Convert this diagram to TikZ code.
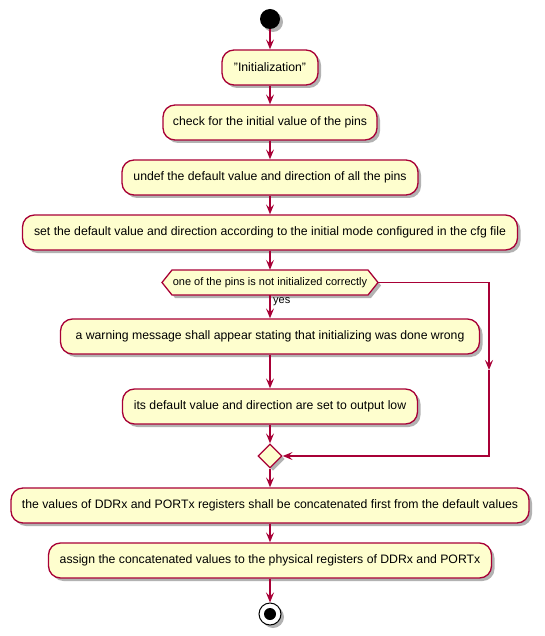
\documentclass[tikz,border=0pt]{standalone}
\usepackage{fontspec}
\setmainfont{Liberation Sans}
\usetikzlibrary{arrows.meta,shapes.geometric,shadows,calc}
\definecolor{pborder}{HTML}{A80036}
\definecolor{pfill}{HTML}{FEFECE}
\begin{document}
\begin{tikzpicture}[x=1pt,y=-1pt,
  shad/.style={drop shadow={shadow xshift=3pt,shadow yshift=-3pt,opacity=0.3,fill=black}},
  act/.style={draw=pborder,fill=pfill,line width=1.3pt,rounded corners=12pt,minimum height=35pt,inner sep=0pt,font=\fontsize{12.25}{14}\selectfont,shad},
  arr/.style={draw=pborder,line width=1.2pt,-{Stealth[length=10pt,width=8pt,inset=4pt]}},
  ln/.style={draw=pborder,line width=1.3pt},
  small/.style={font=\fontsize{11}{13}\selectfont},
]
\useasboundingbox (0,0) rectangle (545,636);

\node[circle,fill=black,minimum size=20pt,inner sep=0pt,shad] (start) at (270,19) {};
\node[act,minimum width=96pt] (init) at (270,67.5) {"Initialization"};
\node[act,minimum width=214pt] (check) at (270,122.5) {check for the initial value of the pins};
\node[act,minimum width=296pt] (undef) at (270,177.5) {undef the default value and direction of all the pins};
\node[act,minimum width=495pt] (setdef) at (270,232.5) {set the default value and direction according to the initial mode configured in the cfg file};

\draw[ln,fill=pfill,shad] (162,282.5) -- (172,270) -- (368,270) -- (378,282.5) -- (368,295) -- (172,295) -- cycle;
\node[small,minimum width=216pt,minimum height=25pt,inner sep=0pt] (hex) at (270,282.5) {one of the pins is not initialized correctly};
\node[small,anchor=west,inner sep=0pt] (yes) at (273,302) {yes};

\node[act,minimum width=419pt] (warn) at (270,336.5) {a warning message shall appear stating that initializing was done wrong};
\node[act,minimum width=295pt] (its) at (270,406.5) {its default value and direction are set to output low};
\node[diamond,draw=pborder,fill=pfill,line width=1.3pt,minimum width=24pt,minimum height=24pt,inner sep=0pt,shad] (merge) at (270,456) {};
\node[act,minimum width=518pt] (values) at (270,505.5) {the values of DDRx and PORTx registers shall be concatenated first from the default values};
\node[act,minimum width=443pt] (assign) at (270,560.5) {assign the concatenated values to the physical registers of DDRx and PORTx};
\node[circle,draw=black,fill=white,line width=1pt,minimum size=22pt,inner sep=0pt,shad] (stop) at (270,614) {};
\fill[black] (stop.center) circle (6pt);

\coordinate (r1) at (489,282.5);
\coordinate (rm) at (489,370);
\coordinate (r2) at (489,456);

\draw[arr] (start) -- (init);
\draw[arr] (init) -- (check);
\draw[arr] (check) -- (undef);
\draw[arr] (undef) -- (setdef);
\draw[arr] (setdef) -- (hex.north);
\draw[arr] (hex.south) -- (warn);
\draw[arr] (warn) -- (its);
\draw[arr] (its) -- (merge);
\draw[arr] (hex.east) -- (r1) -- (rm);
\draw[arr] (rm) -- (r2) -- (merge.east);
\draw[arr] (merge) -- (values);
\draw[arr] (values) -- (assign);
\draw[arr] (assign) -- (stop);
\end{tikzpicture}
\end{document}
